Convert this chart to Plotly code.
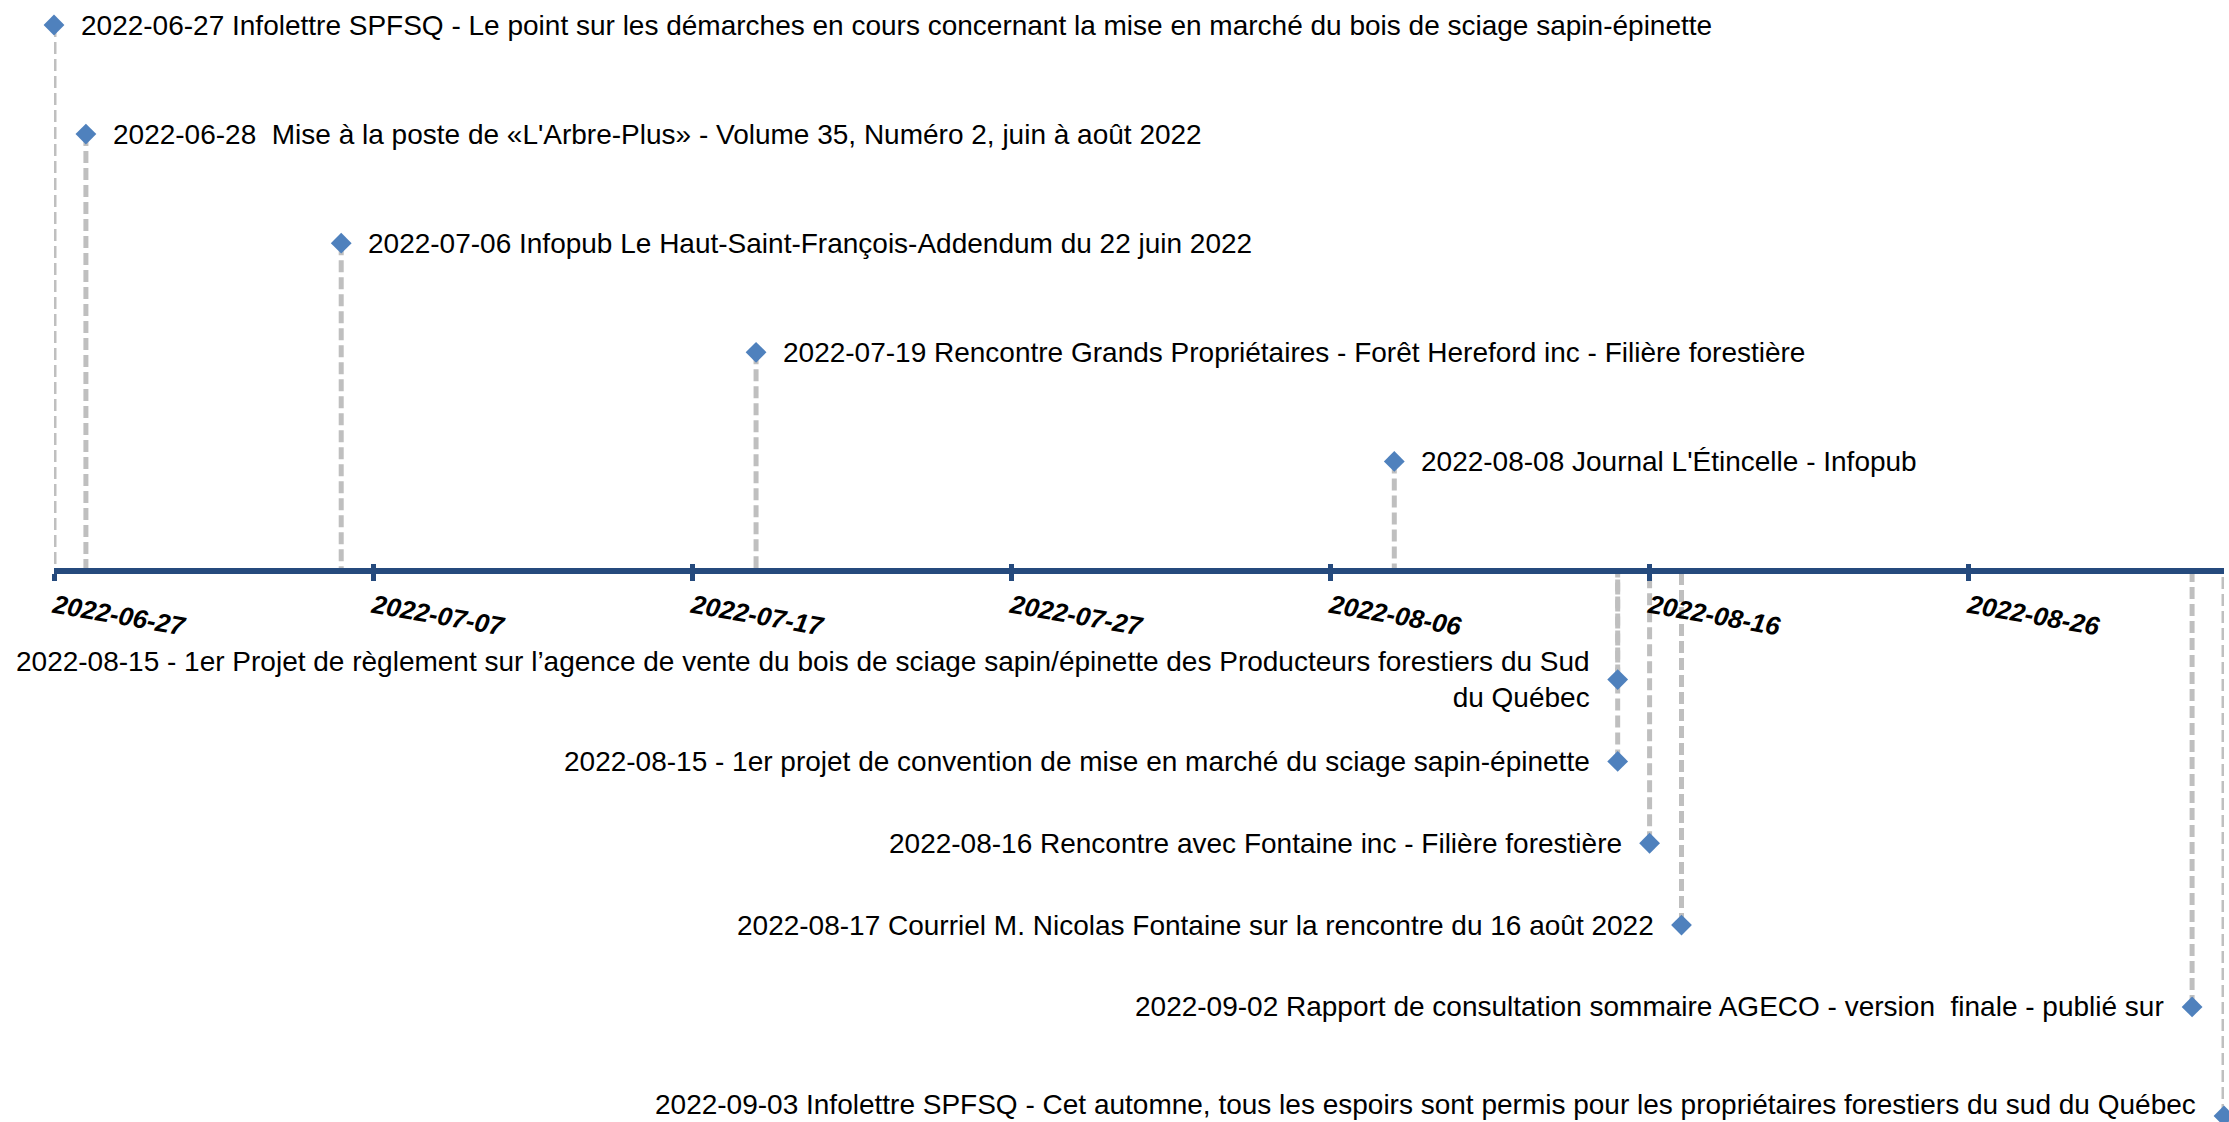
import plotly.graph_objects as go

# ---- data ----
dates = ["2022-06-27", "2022-06-28", "2022-07-06", "2022-07-19", "2022-08-08",
         "2022-08-15", "2022-08-15", "2022-08-16", "2022-08-17", "2022-09-02", "2022-09-03"]
levels = [5, 4, 3, 2, 1, -1, -1.75, -2.5, -3.25, -4, -5]
labels = [
    "2022-06-27 Infolettre SPFSQ - Le point sur les démarches en cours concernant la mise en marché du bois de sciage sapin-épinette",
    "2022-06-28\u00a0 Mise à la poste de «L'Arbre-Plus» - Volume 35, Numéro 2, juin à août 2022",
    "2022-07-06 Infopub Le Haut-Saint-François-Addendum du 22 juin 2022",
    "2022-07-19 Rencontre Grands Propriétaires - Forêt Hereford inc - Filière forestière",
    "2022-08-08 Journal L'Étincelle - Infopub",
    "2022-08-15 - 1er Projet de règlement sur l’agence de vente du bois de sciage sapin/épinette des Producteurs forestiers du Sud<br>du Québec",
    "2022-08-15 - 1er projet de convention de mise en marché du sciage sapin-épinette",
    "2022-08-16 Rencontre avec Fontaine inc - Filière forestière",
    "2022-08-17 Courriel M. Nicolas Fontaine sur la rencontre du 16 août 2022",
    "2022-09-02 Rapport de consultation sommaire AGECO - version\u00a0 finale - publié sur",
    "2022-09-03 Infolettre SPFSQ - Cet automne, tous les espoirs sont permis pour les propriétaires forestiers du sud du Québec",
]
x_range = ["2022-06-27", "2022-09-03"]
tick_start = "2022-06-27"
tick_step_days = 10

# ---- styles ----
FONT = "Liberation Sans, Arial, sans-serif"
AXIS_COLOR = "#254A7D"
STEM_COLOR = "#BFBFBF"
MARKER_COLOR = "#4F81BD"

stem_x, stem_y = [], []
for d, v in zip(dates, levels):
    stem_x += [d, d, None]
    stem_y += [v, 0, None]

fig = go.Figure()
fig.add_trace(go.Scatter(
    x=stem_x, y=stem_y, mode="lines", xaxis="x", yaxis="y",
    line=dict(color=STEM_COLOR, width=5, dash="12px,5px"),
    hoverinfo="skip", showlegend=False, cliponaxis=False,
))
fig.add_trace(go.Scatter(
    x=dates, y=levels, mode="markers", xaxis="x2", yaxis="y",
    marker=dict(symbol="diamond", size=16, color=MARKER_COLOR),
    text=labels, hoverinfo="text",
    showlegend=False, cliponaxis=False,
))

# data labels (right of the point above the axis, left of it below)
lowest = min(levels)
for d, v, t in zip(dates, levels, labels):
    above = v > 0
    at_bottom = v == lowest
    fig.add_annotation(
        x=d, y=v, xref="x", yref="y", text=t, showarrow=False,
        xanchor="left" if above else "right",
        align="left" if above else "right",
        yanchor="bottom" if at_bottom else "middle",
        xshift=27 if above else -28,
        yshift=-4 if at_bottom else 0,
        borderpad=0, borderwidth=0,
        font=dict(family=FONT, size=28, color="black"),
    )

dtick_ms = tick_step_days * 24 * 3600 * 1000
fig.update_layout(
    width=2229, height=1122,
    margin=dict(l=54, r=5, t=25, b=6),
    paper_bgcolor="white", plot_bgcolor="white",
    showlegend=False,
    xaxis=dict(
        type="date", range=x_range, anchor="free", position=0.5,
        tick0=tick_start, dtick=dtick_ms, tickformat="%Y-%m-%d",
        showgrid=False, zeroline=False,
        showline=True, linecolor=AXIS_COLOR, linewidth=6,
        ticks="outside", ticklen=7, tickwidth=5, tickcolor=AXIS_COLOR,
        tickangle=10,
        tickfont=dict(family=FONT, size=26, color="black", weight="bold", style="italic"),
        ticklabelstandoff=1,
        fixedrange=True,
    ),
    xaxis2=dict(
        type="date", range=x_range, anchor="free", position=0.5, overlaying="x",
        tick0=tick_start, dtick=dtick_ms,
        showgrid=False, zeroline=False, showline=False,
        ticks="inside", ticklen=7, tickwidth=5, tickcolor=AXIS_COLOR,
        showticklabels=False, fixedrange=True,
    ),
    yaxis=dict(range=[-5, 5], visible=False, fixedrange=True),
)

fig.write_html(
    "out.html",
    config={"displayModeBar": False},
    post_script="document.body.style.margin='0';document.body.style.overflow='hidden';",
)
